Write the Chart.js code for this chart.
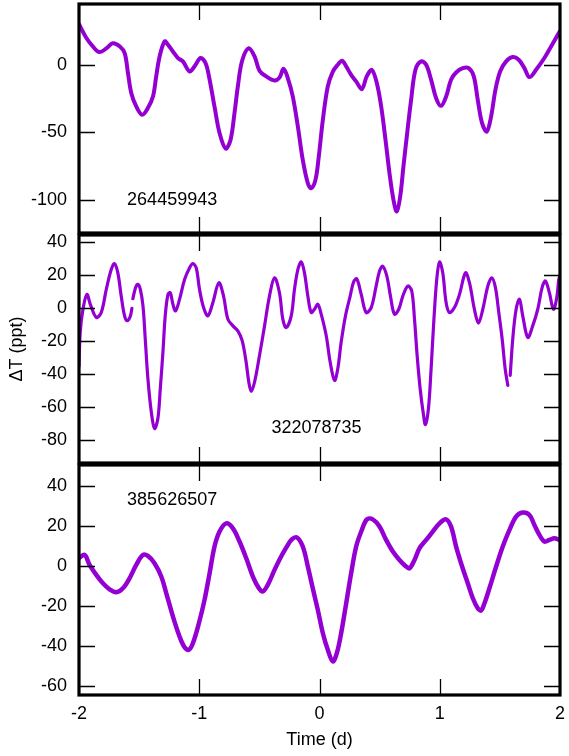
<!DOCTYPE html>
<html><head><meta charset="utf-8">
<script src="https://cdn.jsdelivr.net/npm/chart.js@4.4.1/dist/chart.umd.min.js"></script>
<style>
html,body{margin:0;padding:0;background:#fff;}
#wrap{position:relative;width:569px;height:756px;overflow:hidden;background:#fff;}
canvas{position:absolute;left:0;}
</style></head><body>
<div id="wrap">
<canvas id="c1" style="top:0px;width:569px;height:240px"></canvas>
<canvas id="c2" style="top:226px;width:569px;height:244px"></canvas>
<canvas id="c3" style="top:456px;width:569px;height:300px"></canvas>
</div>
<script>
// ---- Data ----
const timeTicks = [-2, -1, 0, 1, 2];
const p1Ticks = [0, -50, -100];
const p2Ticks = [40, 20, 0, -20, -40, -60, -80];
const p3Ticks = [40, 20, 0, -20, -40, -60];
const starIds = ['264459943', '322078735', '385626507'];

const p1Time = [-2.0,-1.94,-1.885,-1.83,-1.77,-1.72,-1.66,-1.62,-1.593,-1.565,-1.523,-1.474,-1.427,-1.385,-1.358,-1.33,-1.288,-1.26,-1.219,-1.177,-1.136,-1.08,-1.04,-0.989,-0.947,-0.914,-0.873,-0.831,-0.781,-0.74,-0.707,-0.679,-0.643,-0.588,-0.54,-0.499,-0.443,-0.374,-0.333,-0.299,-0.263,-0.222,-0.18,-0.139,-0.097,-0.069,-0.033,-0.006,0.028,0.069,0.111,0.152,0.188,0.222,0.263,0.305,0.352,0.393,0.435,0.477,0.513,0.549,0.582,0.615,0.643,0.671,0.698,0.729,0.762,0.798,0.845,0.887,0.928,0.97,1.011,1.053,1.094,1.136,1.191,1.241,1.283,1.316,1.352,1.391,1.427,1.463,1.502,1.552,1.607,1.657,1.704,1.746,1.801,1.87,1.926,1.99,2.0];
const p1Flux = [30,20,13.6,9.4,12.3,16,13.6,8.6,-6,-21,-31,-37,-32,-23.5,-8.6,6,17.3,14.8,9.9,5,2.5,-5,-1.2,5,1.2,-11,-31,-50.6,-62,-55.6,-35.8,-16,3.2,12.3,6.2,-4.4,-8.6,-11.6,-9.5,-3,-10,-23.5,-45.7,-70.4,-87.7,-91.4,-85,-67.9,-40.7,-16,-5,0,3,-1.2,-7.4,-12.3,-18,-8.6,-3.7,-13.6,-30.9,-55.6,-80.2,-100,-108.6,-97.5,-75.3,-50.6,-25.9,-3.7,2.5,0,-11,-24.7,-30.4,-23.5,-11,-5.7,-2.5,-2.5,-8.6,-25.9,-43.2,-49.4,-38.3,-18.5,-5,2.5,5.7,3.7,-2.5,-9.1,-3.7,5,13.6,23.5,25];

const p2Time = [-2.0,-1.99,-1.967,-1.934,-1.906,-1.856,-1.815,-1.773,-1.732,-1.705,-1.677,-1.649,-1.621,-1.599,-1.574,-1.56,-1.556,-1.552,-1.53,-1.51,-1.49,-1.468,-1.449,-1.427,-1.399,-1.372,-1.344,-1.324,-1.302,-1.283,-1.26,-1.241,-1.219,-1.197,-1.164,-1.122,-1.081,-1.053,-1.025,-0.998,-0.964,-0.928,-0.887,-0.837,-0.798,-0.762,-0.72,-0.679,-0.643,-0.61,-0.588,-0.568,-0.54,-0.499,-0.457,-0.416,-0.374,-0.333,-0.305,-0.277,-0.235,-0.208,-0.18,-0.152,-0.125,-0.097,-0.069,-0.042,-0.014,0.014,0.056,0.089,0.125,0.152,0.18,0.216,0.255,0.283,0.31,0.347,0.388,0.43,0.471,0.499,0.526,0.56,0.59,0.623,0.659,0.693,0.734,0.767,0.79,0.812,0.837,0.865,0.881,0.906,0.928,0.95,0.975,0.998,1.025,1.053,1.081,1.122,1.164,1.214,1.247,1.288,1.322,1.358,1.4,1.433,1.463,1.491,1.519,1.544,1.566,1.576,1.586,1.607,1.635,1.663,1.69,1.732,1.773,1.815,1.851,1.879,1.912,1.945,1.973,1.99,2.0];
const p2Flux = [-35,-14.7,-0.6,8.4,2.4,-5.6,-2.6,11.5,23.5,27.1,21.5,7.4,-4.6,-7.6,-5,0,null,5.8,12.5,14.5,11.5,1.4,-18.7,-42.8,-62.9,-73,-67,-48.8,-26.7,-4.6,8.4,9.4,2.4,-1.6,5.4,17.5,24.5,27.1,24.5,11.5,0.4,-4.6,3.4,15.5,7.4,-6.6,-10.7,-13.7,-19.7,-32.8,-44.8,-50.5,-44.8,-28.7,-10.7,7.4,18.5,9.4,-6.6,-11.7,-4.6,11.5,23.5,28.1,21.5,7.4,-2.6,-0.6,2.4,-3.6,-16.7,-32.8,-43.8,-36.8,-20.7,-4.6,7.4,15.9,17.9,8.4,-2.6,0.4,13.5,22.5,25.5,19.5,7.4,-3.6,-0.6,7.4,13.5,10.5,-6.6,-28.7,-48.8,-64.9,-70.6,-60.9,-36.8,-8.6,17.5,28.1,21.5,3.4,-2.6,0.4,8.4,21.5,15.5,-0.6,-9,-0.6,13.5,18.5,12.5,-2.6,-18.7,-36.8,-46.8,null,-40.8,-18.7,-0.6,5.4,-4.6,-17.7,-10.7,-0.6,12.5,16.5,9.4,-0.6,6.4,17.5,20];

const p3Time = [-2.0,-1.953,-1.912,-1.856,-1.801,-1.746,-1.69,-1.635,-1.58,-1.524,-1.469,-1.427,-1.372,-1.316,-1.274,-1.219,-1.164,-1.122,-1.086,-1.053,-1.003,-0.956,-0.914,-0.873,-0.831,-0.776,-0.72,-0.665,-0.609,-0.554,-0.504,-0.471,-0.43,-0.374,-0.319,-0.263,-0.235,-0.189,-0.139,-0.097,-0.056,-0.014,0.028,0.069,0.111,0.144,0.18,0.222,0.263,0.305,0.347,0.394,0.443,0.499,0.554,0.61,0.665,0.715,0.748,0.79,0.831,0.887,0.942,0.998,1.053,1.094,1.136,1.186,1.233,1.275,1.316,1.344,1.372,1.413,1.469,1.524,1.58,1.635,1.69,1.746,1.787,1.829,1.87,1.912,1.953,1.995];
const p3Flux = [4,5.5,0.5,-4.5,-8.7,-11.7,-13.2,-11.2,-6.2,0.5,5.5,5,1.3,-5.3,-13.7,-25.3,-35.3,-40.7,-42,-38.7,-28.7,-17,-3.7,9.7,17.2,21.3,18.8,12.2,3.8,-5.3,-11.2,-12.8,-9.5,-2,4.7,10.5,13,14.3,9.7,-0.3,-11.2,-22,-33.7,-42,-47.8,-43.7,-33.7,-18.7,-3.7,9.7,17.2,23.3,23.3,19.7,13,7.2,3,0,-1.2,3,8.8,13,17.2,21.3,23.3,19.7,9.7,-0.3,-8.7,-16.2,-21.2,-22.3,-18.7,-11.2,-0.3,9.7,18,24.7,26.7,25.5,20.5,15.5,12.2,13,13.8,13];

// ---- Style ----
const PURPLE = '#9400D3';
const FONT = '"Liberation Sans", Arial, Helvetica, sans-serif';
Chart.defaults.font.family = FONT;
Chart.defaults.font.size = 18;
Chart.defaults.color = '#000';

const framePlugin = {
  id: 'frame',
  afterDatasetsDraw(chart, args, opts) {
    const {ctx, chartArea: a, scales} = chart;
    const x = scales.x, y = scales.y;
    ctx.save();
    ctx.strokeStyle = '#000';
    ctx.lineWidth = 1.3;
    const TL = 16;
    ctx.beginPath();
    for (const v of opts.yTicks) {
      const py = Math.round(y.getPixelForValue(v)) + 0.5;
      ctx.moveTo(a.left, py); ctx.lineTo(a.left + TL, py);
      ctx.moveTo(a.right, py); ctx.lineTo(a.right - TL, py);
    }
    for (const t of timeTicks) {
      const px = Math.round(x.getPixelForValue(t)) + 0.5;
      if (px < a.left + 3 || px > a.right - 3) continue;
      ctx.moveTo(px, a.top); ctx.lineTo(px, a.top + TL);
      ctx.moveTo(px, a.bottom); ctx.lineTo(px, a.bottom - TL);
    }
    ctx.stroke();
    ctx.lineWidth = 3.2;
    ctx.strokeRect(a.left, a.top, a.right - a.left, a.bottom - a.top);
    ctx.fillStyle = '#000';
    ctx.font = '18px ' + FONT;
    ctx.textAlign = 'left';
    ctx.textBaseline = 'middle';
    ctx.fillText(opts.label, x.getPixelForValue(opts.labelAt[0]), y.getPixelForValue(opts.labelAt[1]));
    ctx.restore();
  }
};

function pts(t, f) { return t.map((v, i) => ({x: v, y: f[i]})); }

function makeChart(id, time, flux, yTicks, yMin, yMax, label, labelAt, lw, pad, bottomAxis, yTitle) {
  const el = document.getElementById(id);
  const H = parseInt(el.style.height);
  el.width = 569; el.height = H;
  return new Chart(el, {
    type: 'line',
    data: { datasets: [{
      data: pts(time, flux),
      borderColor: PURPLE,
      backgroundColor: PURPLE,
      borderWidth: lw,
      pointRadius: 0,
      tension: 0.35,
      borderJoinStyle: 'round',
      borderCapStyle: 'round',
      spanGaps: false,
      fill: false
    }]},
    options: {
      responsive: false,
      animation: false,
      devicePixelRatio: 1,
      layout: { padding: pad },
      plugins: {
        legend: { display: false },
        tooltip: { enabled: false },
        frame: { yTicks: yTicks, label: label, labelAt: labelAt }
      },
      scales: {
        x: {
          type: 'linear', min: -2, max: 2,
          display: bottomAxis,
          afterBuildTicks: s => { s.ticks = timeTicks.map(v => ({value: v})); },
          afterFit: s => { s.paddingLeft = 0; s.paddingRight = 0; if (bottomAxis) s.height = 61; },
          grid: { display: false, drawTicks: false },
          border: { display: false },
          ticks: { padding: 8, maxRotation: 0, autoSkip: false },
          title: { display: !!bottomAxis, text: 'Time (d)', padding: { top: 0, bottom: 5 } }
        },
        y: {
          type: 'linear', min: yMin, max: yMax,
          afterBuildTicks: s => { s.ticks = yTicks.map(v => ({value: v})); },
          afterFit: s => { s.width = 79; s.paddingTop = 0; s.paddingBottom = 0; },
          grid: { display: false, drawTicks: false },
          border: { display: false },
          ticks: { padding: 12, autoSkip: false },
          title: { display: !!yTitle, text: yTitle || '', padding: { top: 6, bottom: 0 } }
        }
      }
    },
    plugins: [framePlugin]
  });
}

makeChart('c1', p1Time, p1Flux, p1Ticks, -124.5, 45, starIds[0], [-1.6, -100], 4, {top: 4, bottom: 7, left: 0, right: 9}, false, null);
makeChart('c2', p2Time, p2Flux, p2Ticks, -94, 44.5, starIds[1], [-0.4, -73], 3.2, {top: 9, bottom: 7, left: 0, right: 9}, false, 'ΔT (ppt)');
makeChart('c3', p3Time, p3Flux, p3Ticks, -64.6, 50.5, starIds[2], [-1.6, 33], 4.5, {top: 9, bottom: 0, left: 0, right: 9}, true, null);
</script>
</body></html>
